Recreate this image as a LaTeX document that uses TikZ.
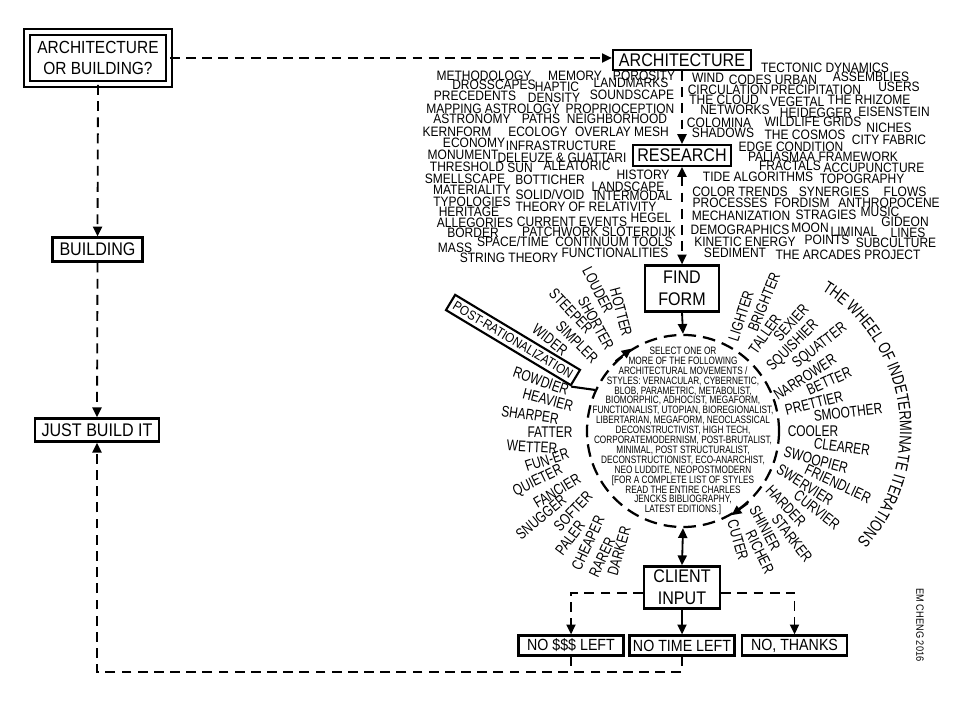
\documentclass[tikz,border=0pt]{standalone}
\usepackage{fontspec}
\setmainfont[FakeStretch=0.88]{Liberation Sans}
\newfontfamily\narrowfont[FakeStretch=0.77]{Liberation Sans}
\usetikzlibrary{arrows.meta, positioning, calc, decorations.text}
\tikzset{
  >={Triangle[length=7pt,width=6.5pt]},
  box/.style={rectangle, draw, line width=1.6pt, inner sep=0pt, align=center,
              font=\fontsize{13}{15.5}\selectfont},
  smallbox/.style={box, font=\fontsize{11.5}{13}\selectfont,
                   minimum width=2.62cm, minimum height=0.5cm},
  dline/.style={line width=1.3pt, dash pattern=on 7pt off 4.5pt, ->},
  sline/.style={line width=1.3pt, ->},
  cloudword/.style={inner sep=0pt, anchor=base, font=\fontsize{9.7}{12}\selectfont},
  spokeword/.style={inner sep=0pt, font=\narrowfont\fontsize{11}{13}\selectfont},
  wheelring/.style={circle, draw, line width=1.6pt, dash pattern=on 9pt off 5pt,
                    minimum size=4.8cm, inner sep=0pt},
}
\begin{document}
\begin{tikzpicture}[x=0.025cm, y=-0.025cm]
\useasboundingbox (0,0) rectangle (960,720);
\node[box, double, double distance=3pt, line width=1.3pt, minimum width=3.55cm,
      minimum height=1.3cm, font=\fontsize{12.5}{15}\selectfont] (q) at (98,58) {ARCHITECTURE\\OR BUILDING?};
\node[box, minimum width=2.25cm, minimum height=0.6cm] (build) at (97.5,249.5) {BUILDING};
\node[box, minimum width=3.1cm, minimum height=0.58cm] (just) at (97,430) {JUST BUILD IT};
\node[box, minimum width=3.45cm, minimum height=0.5cm] (arch) at (682,60) {ARCHITECTURE};
\node[box, minimum width=2.45cm, minimum height=0.52cm] (research) at (682,155.5) {RESEARCH};
\node[box, minimum width=1.85cm, minimum height=1.15cm] (find) at (682,288.5) {FIND\\FORM};
\node[wheelring] (wheel) at (683,431) {};
\node[align=center, inner sep=0pt, font=\narrowfont\fontsize{7.6}{7.04}\selectfont] (styles) at (wheel.center) {SELECT ONE OR\\
MORE OF THE FOLLOWING\\ARCHITECTURAL MOVEMENTS /\\STYLES: VERNACULAR, CYBERNETIC,\\
BLOB, PARAMETRIC, METABOLIST,\\BIOMORPHIC, ADHOCIST, MEGAFORM,\\
FUNCTIONALIST, UTOPIAN, BIOREGIONALIST,\\LIBERTARIAN, MEGAFORM, NEOCLASSICAL\\
DECONSTRUCTIVIST, HIGH TECH,\\CORPORATEMODERNISM, POST-BRUTALIST,\\
MINIMAL, POST STRUCTURALIST,\\DECONSTRUCTIONIST, ECO-ANARCHIST,\\
NEO LUDDITE, NEOPOSTMODERN\\{[FOR A COMPLETE LIST OF STYLES}\\
READ THE ENTIRE CHARLES\\JENCKS BIBLIOGRAPHY,\\LATEST EDITIONS.]};
\node[box, line width=1.8pt, minimum width=1.9cm, minimum height=1.05cm] (client) at (682,587.5) {CLIENT\\INPUT};
\node[smallbox] (nomoney) at (571,645.5) {NO \$\$\$ LEFT};
\node[smallbox] (notime) at (682,645.5) {NO TIME LEFT};
\node[smallbox] (nothanks) at (794.5,645.5) {NO, THANKS};
\node[box, rotate=-31, inner sep=3pt, line width=1.5pt, font=\fontsize{9.4}{11}\selectfont] (postrat) at (513,340) {POST-RATIONALIZATION};
\node[rotate=-90, inner sep=0pt, font=\fontsize{7.5}{9}\selectfont] (sig) at (920,625) {EM CHENG 2016};
\coordinate (back) at (just.south |- 0,672);
\draw[dline] (q.east) -- (q.east -| arch.west);
\draw[dline] (q.south) -- (build.north);
\draw[dline] (build.south) -- (just.north);
\draw[dline] (notime.south) |- (back) -- (just.south);
\draw[dline, -] (nomoney.south) -- (nomoney.south |- back);
\draw[dline] (arch.south) -- (research.north);
\draw[dline, <->] (research.south) -- (find.north);
\draw[sline] (find.south) -- (wheel.north);
\draw[sline, <->] (wheel.south) -- (client.north);
\draw[dline] ([yshift=-4pt]client.west) -| (nomoney.north);
\draw[dline] ([yshift=-4pt]client.east) -| (nothanks.north);
\draw[sline] (client.south) -- (notime.north);
\draw[sline] (wheel.134) -- (wheel.122);
\draw[sline] (wheel.-48) -- (wheel.-60);
\draw[line width=1.5pt] (postrat.south east) -- (wheel.155);
\foreach \x/\y/\w [count=\i] in {484/81/METHODOLOGY, 575/81/MEMORY, 644/81/POROSITY,
  494/90/DROSSCAPES, 557/92/HAPTIC, 631/88/LANDMARKS,
  475/101/PRECEDENTS, 554/103/DENSITY, 632/100/SOUNDSCAPE,
  493/114/MAPPING ASTROLOGY, 620/114/PROPRIOCEPTION,
  472/124/ASTRONOMY, 541/124/PATHS, 617/124/NEIGHBORHOOD,
  457/137/KERNFORM, 538/137/ECOLOGY, 622/137/OVERLAY MESH,
  474/148/ECONOMY, 561/151/INFRASTRUCTURE,
  463/160/MONUMENT, 562/163/DELEUZE \& GUATTARI,
  467/172/THRESHOLD, 520/173/SUN, 577/171/ALEATORIC,
  465/184/SMELLSCAPE, 550/185/BOTTICHER, 643/180/HISTORY,
  472/195/MATERIALITY, 628/192/LANDSCAPE,
  472/207/TYPOLOGIES, 550/200/{SOLID/VOID}, 633/201/INTERMODAL,
  469/217/HERITAGE, 586/212/THEORY OF RELATIVITY,
  475/228/ALLEGORIES, 572/227/CURRENT EVENTS, 651/223/HEGEL,
  473/238/BORDER, 599/237/PATCHWORK SLOTERDIJK,
  455/253/MASS, 513/247/{SPACE/TIME}, 614/247/CONTINUUM TOOLS,
  509/263/STRING THEORY, 615/258/FUNCTIONALITIES}
  \node[cloudword] (left\i) at (\x,\y) {\w};
\foreach \x/\y/\w [count=\i] in {825/73/TECTONIC DYNAMICS,
  708/83/WIND, 773/85/CODES URBAN, 871/82/ASSEMBLIES,
  728/95/CIRCULATION, 816/95/PRECIPITATION, 899/92/USERS,
  724/105/THE CLOUD, 797/107/VEGETAL, 869/105/THE RHIZOME,
  735/115/NETWORKS, 816/118/HEIDEGGER, 894/117/EISENSTEIN,
  719/128/COLOMINA, 813/127/WILDLIFE GRIDS, 889/133/NICHES,
  723/138/SHADOWS, 805/140/THE COSMOS, 889/145/CITY FABRIC,
  791/152/EDGE CONDITION, 823/162/PALIASMAA FRAMEWORK,
  790/171/FRACTALS, 874/173/ACCUPUNCTURE,
  758/182/TIDE ALGORITHMS, 862/184/TOPOGRAPHY,
  740/197/COLOR TRENDS, 834/197/SYNERGIES, 905/197/FLOWS,
  730/208/PROCESSES, 802/208/FORDISM, 889/208/ANTHROPOCENE,
  741/221/MECHANIZATION, 826/220/STRAGIES, 880/217/MUSIC,
  740/235/DEMOGRAPHICS, 810/233/MOON, 854/237/LIMINAL, 905/227/GIDEON, 908/238/LINES,
  745/247/KINETIC ENERGY, 827/245/POINTS, 896/248/SUBCULTURE,
  735/258/SEDIMENT, 848/260/THE ARCADES PROJECT}
  \node[cloudword] (right\i) at (\x,\y) {\w};
\foreach \x/\y/\a/\w [count=\i] in {621/312/-75/HOTTER, 598/290/-63/LOUDER,
  596/323/-61/SHORTER, 571/311/-47/STEEPER, 577/342/-45/SIMPLER, 550/340/-38/WIDER,
  541/381/-19/ROWDIER, 548/400/-15/HEAVIER, 530/415/-8/SHARPER, 550/432/0/FATTER,
  532/447/-3/WETTER, 547/460/18/FUN-ER, 538/481/26/QUIETER, 557/491/31/FANCIER,
  541/517/40/SNUGGER, 573/511/47/SOFTER, 570/538/53/PALER, 588/543/65/CHEAPER,
  602/557/65/RARER, 619/551/74/DARKER,
  741/316/72/LIGHTER, 764/302/68/BRIGHTER, 765/334/55/TALLER, 791/323/48/SEXIER,
  793/346/45/SQUISHIER, 820/346/38/SQUATTER, 805/377/33/NARROWER, 829/381/24/BETTER,
  814/403/14/PRETTIER, 848/412/7/SMOOTHER, 813/431/0/COOLER, 842/447/-8/CLEARER,
  816/460/-15/SWOOPIER, 838/484/-25/FRIENDLIER, 805/485/-32/SWERVIER,
  817/510/-38/CURVIER, 786/506/-47/HARDER, 792/538/-52/STARKER,
  765/528/-62/SHINIER, 760/552/-64/RICHER, 738/540/-74/CUTER}
  \node[spokeword, rotate=\a] (spoke\i) at (\x,\y) {\w};
\path[decorate, decoration={text along path, text align=center,
  text={|\narrowfont\fontsize{12}{14}\selectfont|THE WHEEL OF INDETERMINATE ITERATIONS}}]
  (736,430) ++(-62:164) arc[start angle=-62, end angle=46, radius=164];
\end{tikzpicture}
\end{document}
